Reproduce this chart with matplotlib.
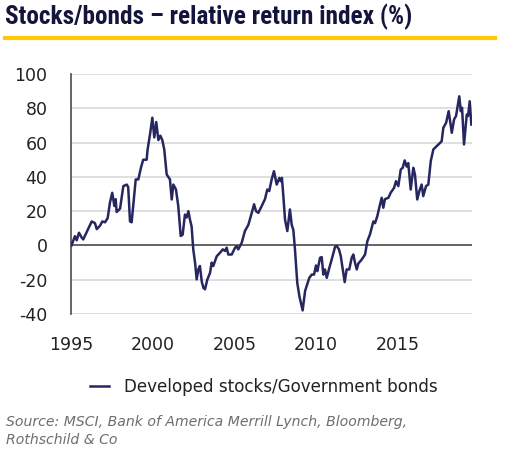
import matplotlib
matplotlib.use("Agg")
import matplotlib.pyplot as plt
from matplotlib.lines import Line2D

# ---- data ----
years = [
    1995.00, 1995.21, 1995.32, 1995.46, 1995.63, 1995.72, 1996.24, 1996.44, 1996.55, 1996.75,
    1996.89, 1997.06, 1997.22, 1997.36, 1997.50, 1997.63, 1997.71, 1997.77, 1997.98, 1998.18,
    1998.39, 1998.48, 1998.59, 1998.69, 1998.94, 1999.10, 1999.26, 1999.40, 1999.61, 1999.67,
    1999.82, 1999.96, 2000.08, 2000.20, 2000.33, 2000.45, 2000.57, 2000.69, 2000.84, 2001.04,
    2001.15, 2001.25, 2001.41, 2001.55, 2001.70, 2001.82, 2001.96, 2002.07, 2002.17, 2002.27,
    2002.37, 2002.47, 2002.58, 2002.68, 2002.78, 2002.88, 2002.99, 2003.09, 2003.19, 2003.33,
    2003.50, 2003.60, 2003.70, 2003.91, 2004.11, 2004.28, 2004.42, 2004.52, 2004.62, 2004.83,
    2005.03, 2005.13, 2005.23, 2005.44, 2005.64, 2005.85, 2006.06, 2006.20, 2006.32, 2006.46,
    2006.67, 2006.87, 2007.01, 2007.13, 2007.28, 2007.42, 2007.59, 2007.75, 2007.83, 2007.91,
    2007.99, 2008.10, 2008.24, 2008.40, 2008.51, 2008.61, 2008.71, 2008.85, 2008.98, 2009.18,
    2009.33, 2009.43, 2009.59, 2009.74, 2009.88, 2010.00, 2010.08, 2010.25, 2010.35, 2010.45,
    2010.55, 2010.66, 2010.82, 2010.96, 2011.17, 2011.27, 2011.41, 2011.52, 2011.64, 2011.76,
    2011.88, 2012.04, 2012.19, 2012.29, 2012.39, 2012.50, 2012.60, 2012.80, 2013.01, 2013.15,
    2013.31, 2013.52, 2013.62, 2013.76, 2013.88, 2014.03, 2014.13, 2014.23, 2014.44, 2014.58,
    2014.79, 2014.91, 2015.05, 2015.20, 2015.32, 2015.44, 2015.56, 2015.66, 2015.81, 2015.97,
    2016.07, 2016.21, 2016.34, 2016.48, 2016.58, 2016.75, 2016.89, 2017.04, 2017.20, 2017.40,
    2017.61, 2017.71, 2017.81, 2017.98, 2018.14, 2018.33, 2018.47, 2018.59, 2018.79, 2018.88,
    2018.96, 2019.08, 2019.25, 2019.33, 2019.43, 2019.53,
]
values = [
    0.0, 5.4, 3.0, 7.4, 4.5, 3.5, 14.0, 13.0, 9.5, 11.5,
    14.0, 13.5, 16.0, 25.0, 30.7, 23.0, 27.0, 19.5, 21.5, 34.6,
    35.5, 34.0, 14.0, 13.5, 38.5, 38.5, 45.3, 50.0, 50.0, 56.0,
    65.0, 74.5, 63.0, 72.0, 61.5, 64.0, 61.5, 56.0, 41.4, 38.5,
    26.8, 35.5, 32.6, 23.0, 5.5, 6.3, 18.0, 16.3, 20.0, 15.0,
    11.0, -2.3, -10.0, -19.8, -14.0, -12.0, -21.0, -24.7, -25.6, -20.0,
    -16.0, -10.0, -12.0, -6.3, -4.3, -2.3, -3.2, -1.3, -5.3, -5.3,
    -1.4, -0.5, -2.3, 1.5, 8.4, 12.0, 19.0, 24.0, 20.0, 19.0,
    23.0, 27.0, 32.6, 31.7, 38.5, 43.3, 35.5, 39.4, 37.5, 39.4,
    29.7, 15.0, 8.4, 21.0, 12.0, 9.0, -2.3, -21.8, -29.6, -37.9,
    -26.6, -23.7, -18.9, -17.0, -17.0, -11.7, -15.0, -7.2, -6.8, -17.0,
    -14.0, -18.9, -13.0, -8.3, -0.8, -0.3, -2.3, -6.3, -14.0, -21.4,
    -14.0, -14.0, -7.2, -5.3, -10.0, -14.0, -10.5, -8.3, -5.3, 2.5,
    6.4, 14.0, 13.0, 17.0, 22.0, 27.8, 22.0, 27.0, 27.8, 30.7,
    33.6, 37.5, 34.6, 44.3, 45.3, 49.6, 46.0, 48.0, 32.6, 45.3,
    41.4, 26.8, 31.7, 35.5, 28.8, 34.6, 35.5, 49.2, 56.0, 57.9,
    59.8, 60.8, 68.6, 71.5, 78.3, 65.7, 73.5, 75.5, 87.0, 78.3,
    80.3, 58.9, 76.4, 75.5, 84.1, 70.5,
]
series_label = "Developed stocks/Government bonds"
x_ticks = [1995, 2000, 2005, 2010, 2015]
y_ticks = [-40, -20, 0, 20, 40, 60, 80, 100]
title = "Stocks/bonds \u2013 relative return index (%)"
source = "Source: MSCI, Bank of America Merrill Lynch, Bloomberg,\nRothschild & Co"

NAVY = "#262660"
TEXT = "#222222"

plt.rcParams["font.family"] = ["DejaVu Sans"]

fig = plt.figure(figsize=(5.15, 4.54), dpi=100)
ax = fig.add_axes([71 / 515, 1 - 314 / 454, 401 / 515, 240 / 454])

ax.plot(years, values, color=NAVY, lw=1.8, solid_joinstyle="round", zorder=3)

ax.set_xlim(1994.97, 2019.57)
ax.set_ylim(-40, 100)
ax.set_xticks(x_ticks)
ax.set_yticks(y_ticks)
ax.set_xticklabels([str(t) for t in x_ticks])
ax.set_yticklabels([str(t) for t in y_ticks])

for y in y_ticks:
    if y == 0:
        continue
    ax.axhline(y, color="#d9d9d9", lw=1.2, zorder=1)
ax.axhline(0, color="#4a4a4a", lw=1.2, zorder=2)

for s in ["top", "right", "bottom"]:
    ax.spines[s].set_visible(False)
ax.spines["left"].set_color("#4a4a4a")
ax.spines["left"].set_linewidth(1.2)

ax.tick_params(axis="both", length=0, labelsize=12.5, colors=TEXT)
ax.tick_params(axis="y", pad=17)
ax.tick_params(axis="x", pad=15.5)

# title + yellow rule
fig.text(5 / 515, 1 - 24 / 454, title, fontsize=18.2, fontweight="bold",
         family=["Liberation Sans Narrow", "Roboto Condensed", "Liberation Sans"],
         color="#14143c", ha="left", va="baseline")
fig.add_artist(Line2D([5 / 515, 495 / 515], [1 - 38 / 454, 1 - 38 / 454],
                      color="#ffc800", lw=3, transform=fig.transFigure))

# legend
leg_handle = Line2D([], [], color=NAVY, lw=1.8)
fig.legend([leg_handle], [series_label], loc="center",
           bbox_to_anchor=(264 / 515, 1 - 387 / 454), frameon=False,
           fontsize=12.1, handlelength=1.1, handletextpad=0.9, labelcolor=TEXT)

fig.text(6 / 515, 1 - 431 / 454, source, fontsize=10.1, style="italic",
         color="#6e6e6e", ha="left", va="center", linespacing=1.3)

fig.savefig("out.png", dpi=100)
